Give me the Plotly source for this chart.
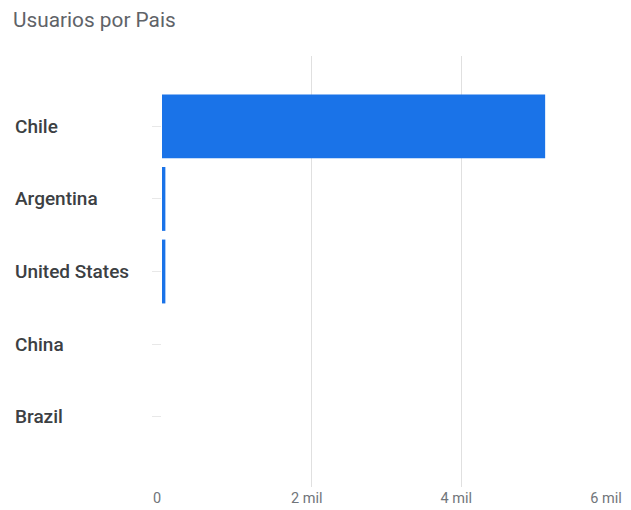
import plotly.graph_objects as go

countries = ["Chile", "Argentina", "United States", "China", "Brazil"]
users = [5120, 45, 45, 0, 0]
tick_vals = [0, 2000, 4000, 6000]
tick_text = ["0", "2 mil", "4 mil", "6 mil"]
title_text = "Usuarios por Pais"

# page body has an 8px default margin, so the figure starts at (8, 8)
OFF = 8
W, H = 631 - OFF, 510 - OFF
L, R, T, B = 162 - OFF, 20, 56 - OFF, 23

fig = go.Figure(go.Bar(
    x=users, y=countries, orientation="h",
    marker=dict(color="#1a73e8", line=dict(width=0)),
))

fig.update_layout(
    width=W, height=H,
    margin=dict(l=L, r=R, t=T, b=B, autoexpand=False),
    paper_bgcolor="white", plot_bgcolor="white",
    bargap=0.12,
    showlegend=False,
    font=dict(family="Roboto", color="#3c4043"),
    title=dict(text=title_text, x=(13 - OFF) / W, xanchor="left", y=1 - (20 - OFF) / H, yanchor="middle",
               font=dict(family="Roboto", size=20.8, color="#5f6368")),
    xaxis=dict(range=[0, 6000], tickvals=tick_vals, ticktext=tick_text,
               showgrid=True, gridcolor="#e0e0e0", gridwidth=1,
               zeroline=False, showline=False, ticks="", automargin=False,
               ticklabeloverflow="allow", ticklabelshift=-5,
               tickfont=dict(family="Roboto", size=14.5, color="#70757a")),
    yaxis=dict(type="category", categoryorder="array", categoryarray=countries,
               range=[4.97, -0.97], showgrid=False, zeroline=False, showline=False,
               ticks="outside", ticklen=9, tickcolor="#e8e8e8", automargin=False,
               showticklabels=False),
)

for c in countries:
    fig.add_annotation(text=c, x=(13 - 162) / (W - L - R), y=c, xref="paper", yref="y",
                       showarrow=False, xanchor="left", yanchor="middle",
                       font=dict(family="Roboto", size=19, color="#3c4043", weight=500))

fig.write_html("out.html")
